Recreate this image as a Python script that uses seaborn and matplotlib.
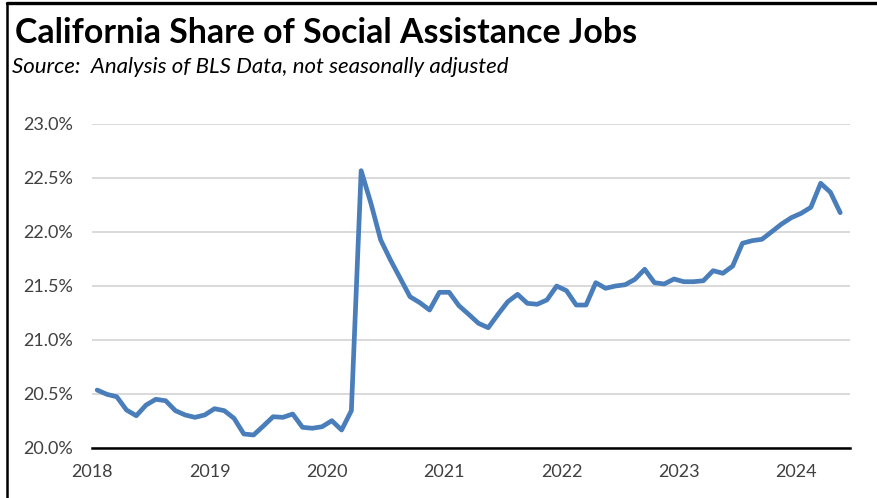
import numpy as np
import pandas as pd
import matplotlib
matplotlib.use("Agg")
import matplotlib.pyplot as plt
from matplotlib.lines import Line2D
import seaborn as sns

# Monthly California share of US social assistance jobs (%), Jan 2018 - May 2024
share_2018 = [20.534, 20.494, 20.472, 20.349, 20.296, 20.395, 20.448, 20.435, 20.343, 20.303, 20.281, 20.303]
share_2019 = [20.361, 20.343, 20.272, 20.127, 20.118, 20.201, 20.287, 20.281, 20.312, 20.189, 20.180, 20.194]
share_2020 = [20.250, 20.164, 20.343, 22.565, 22.263, 21.923, 21.738, 21.568, 21.398, 21.343, 21.275, 21.439]
share_2021 = [21.439, 21.315, 21.235, 21.152, 21.111, 21.235, 21.352, 21.420, 21.337, 21.328, 21.368, 21.497]
share_2022 = [21.454, 21.321, 21.321, 21.528, 21.476, 21.497, 21.509, 21.559, 21.652, 21.528, 21.516, 21.562]
share_2023 = [21.537, 21.537, 21.546, 21.639, 21.615, 21.682, 21.893, 21.917, 21.930, 22.000, 22.071, 22.130]
share_2024 = [22.170, 22.226, 22.448, 22.365, 22.176]

start_year = 2018
year_ticks = [2018, 2019, 2020, 2021, 2022, 2023, 2024]
y_ticks = [20.0, 20.5, 21.0, 21.5, 22.0, 22.5, 23.0]

values = share_2018 + share_2019 + share_2020 + share_2021 + share_2022 + share_2023 + share_2024
n = len(values)
# each month plotted at its midpoint, in decimal years
df = pd.DataFrame({
    "date": start_year + (np.arange(n) + 0.5) / 12.0,
    "share": values,
})

sns.set_theme(style="white")
plt.rcParams["font.family"] = ["Lato", "DejaVu Sans"]

fig = plt.figure(figsize=(8.78, 4.98), dpi=100)
ax = fig.add_axes([0.1051, 0.1010, 0.8630, 0.6506])

text_color = "#404040"
line_color = "#4A7EBB"

sns.lineplot(data=df, x="date", y="share", ax=ax, color=line_color,
             linewidth=3.4, solid_joinstyle="round", solid_capstyle="round",
             zorder=3)

ax.set_xlim(start_year, start_year + (n + 0.5) / 12.0)
ax.set_ylim(20.0, 23.0)
ax.set_xticks(year_ticks)
ax.set_xticklabels([str(y) for y in year_ticks])
ax.set_yticks(y_ticks)
ax.set_yticklabels([f"{v:.1f}%" for v in y_ticks])
ax.set_xlabel("")
ax.set_ylabel("")

ax.grid(axis="y", color="#D9D9D9", linewidth=1.4)
ax.grid(axis="x", visible=False)
ax.set_axisbelow(True)

for side in ("top", "right", "left"):
    ax.spines[side].set_visible(False)
ax.spines["bottom"].set_color("black")
ax.spines["bottom"].set_linewidth(1.8)
ax.spines["bottom"].set_zorder(4)

ax.tick_params(axis="x", direction="inout", length=9, width=1.8,
               color="black", labelsize=13, labelcolor=text_color, pad=7)
ax.tick_params(axis="y", length=0, labelsize=13, labelcolor=text_color, pad=14)

fig.text(0.0175, 0.913, "California Share of Social Assistance Jobs",
         fontsize=24.4, fontweight="bold", color="black", va="baseline", ha="left")
fig.text(0.014, 0.853, "Source:  Analysis of BLS Data, not seasonally adjusted",
         fontsize=16, fontstyle="italic", color="black", va="baseline", ha="left")

# frame lines along the top and left edges
fig.add_artist(Line2D([0.0085, 1.0], [0.9935, 0.9935], transform=fig.transFigure,
                      color="black", linewidth=2.4))
fig.add_artist(Line2D([0.0085, 0.0085], [0.0, 0.9935], transform=fig.transFigure,
                      color="black", linewidth=1.8))

fig.savefig("out.png", dpi=100, facecolor="white")
